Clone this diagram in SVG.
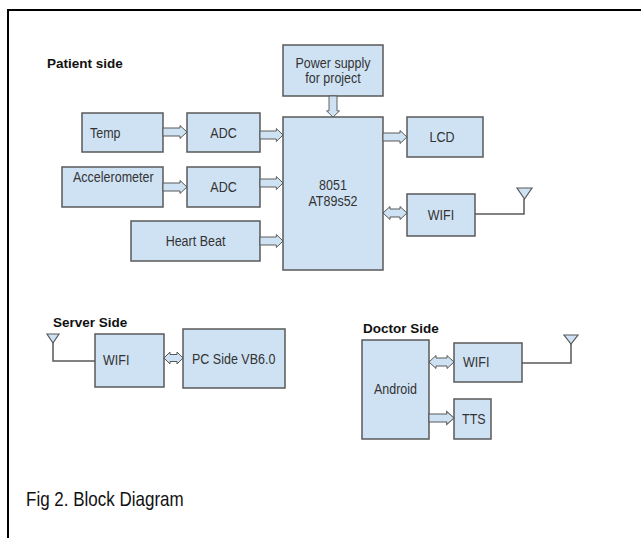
<svg xmlns="http://www.w3.org/2000/svg" width="641" height="538" viewBox="0 0 641 538">
<style>
.box{fill:#cfe2f3;stroke:#595959;stroke-width:1.5}
.arr{fill:#cfe2f3;stroke:#595959;stroke-width:1;stroke-linejoin:miter}
.wire{fill:none;stroke:#595959;stroke-width:1.5}
.ant{fill:#cfe2f3;stroke:#595959;stroke-width:1.2}
.t{font-family:"Liberation Sans",Arial,sans-serif;font-size:12.5px;fill:#333}
.c{text-anchor:middle}
.h{font-family:"Liberation Sans",Arial,sans-serif;font-size:13.5px;font-weight:bold;fill:#111}
.cap{font-family:"Liberation Sans",Arial,sans-serif;font-size:17px;fill:#111}
</style>
<defs>
<path id="ra" d="M0,-4 H17 V-6.5 L24,0 L17,6.5 V4 H0 Z"/>
</defs>
<rect width="641" height="538" fill="#fff"/>
<path d="M8,538 V10 H641" fill="none" stroke="#000" stroke-width="2"/>

<text class="h" x="47" y="68">Patient side</text>
<text class="h" x="53" y="327">Server Side</text>
<text class="h" x="363" y="333">Doctor Side</text>
<text class="cap" transform="translate(26,506) scale(1,1.2)">Fig 2. Block Diagram</text>

<g id="temp"><rect class="box" x="82" y="113" width="81" height="39"/><text class="t" transform="translate(90,138) scale(1,1.15)">Temp</text></g>
<g id="adc1"><rect class="box" x="187" y="113" width="73" height="39"/><text class="t c" transform="translate(223.5,138) scale(1,1.15)">ADC</text></g>
<g id="accel"><rect class="box" x="62" y="167" width="101" height="40"/><text class="t" transform="translate(73,182) scale(1,1.15)">Accelerometer</text></g>
<g id="adc2"><rect class="box" x="187" y="167" width="73" height="40"/><text class="t c" transform="translate(223.5,192) scale(1,1.15)">ADC</text></g>
<g id="heart"><rect class="box" x="131" y="221" width="129" height="40"/><text class="t c" transform="translate(195.5,246) scale(1,1.15)">Heart Beat</text></g>
<g id="power"><rect class="box" x="283" y="45" width="100" height="51"/><text class="t c" transform="translate(333,68) scale(1,1.15)">Power supply</text><text class="t c" transform="translate(333,83) scale(1,1.15)">for project</text></g>
<g id="mcu"><rect class="box" x="283" y="117" width="100" height="153"/><text class="t c" transform="translate(333,190) scale(1,1.15)">8051</text><text class="t c" transform="translate(333,206) scale(1,1.15)">AT89s52</text></g>
<g id="lcd"><rect class="box" x="407" y="117" width="76" height="40"/><text class="t c" transform="translate(442,142) scale(1,1.15)">LCD</text></g>
<g id="wifi1"><rect class="box" x="407" y="194" width="68" height="42"/><text class="t c" transform="translate(441,220) scale(1,1.15)">WIFI</text></g>
<g id="wifi2"><rect class="box" x="95" y="334" width="69" height="53"/><text class="t" transform="translate(103,365) scale(1,1.15)">WIFI</text></g>
<g id="pc"><rect class="box" x="183" y="329" width="102" height="59"/><text class="t" transform="translate(192,364) scale(1,1.15)">PC Side VB6.0</text></g>
<g id="android"><rect class="box" x="362" y="340" width="67" height="99"/><text class="t c" transform="translate(395.5,394) scale(1,1.15)">Android</text></g>
<g id="wifi3"><rect class="box" x="454" y="343" width="68" height="39"/><text class="t" transform="translate(463,367) scale(1,1.15)">WIFI</text></g>
<g id="tts"><rect class="box" x="454" y="399" width="37" height="40"/><text class="t" transform="translate(462,424) scale(1,1.15)">TTS</text></g>

<g id="connectors">
<use href="#ra" class="arr" transform="translate(163,132)"/>
<use href="#ra" class="arr" transform="translate(260,135) scale(0.96,1)"/>
<use href="#ra" class="arr" transform="translate(163,187)"/>
<use href="#ra" class="arr" transform="translate(260,183) scale(0.96,1)"/>
<use href="#ra" class="arr" transform="translate(260,241) scale(0.96,1)"/>
<use href="#ra" class="arr" transform="translate(383,137)"/>
<use href="#ra" class="arr" transform="translate(333,96) rotate(90) scale(0.875,1)"/>
<use href="#ra" class="arr" transform="translate(429,418) scale(1.04,1)"/>
<path class="arr" d="M383,213 L390,206.5 V209 H400 V206.5 L407,213 L400,219.5 V217 H390 V219.5 Z"/>
<path class="arr" d="M164,358 L170,352 V354.5 H177 V352 L183,358 L177,364 V361.5 H170 V364 Z"/>
<path class="arr" d="M429,362 L436,355.5 V358 H447 V355.5 L454,362 L447,368.5 V366 H436 V368.5 Z"/>
<path class="wire" d="M475,214 H524 V199"/>
<path class="ant" d="M517,188 H532 L524.5,199 Z"/>
<path class="wire" d="M95,361 H53 V343"/>
<path class="ant" d="M47,334 H59 L53,343 Z"/>
<path class="wire" d="M522,363 H571 V343"/>
<path class="ant" d="M564,335 H578 L571,344 Z"/>
</g>
</svg>
